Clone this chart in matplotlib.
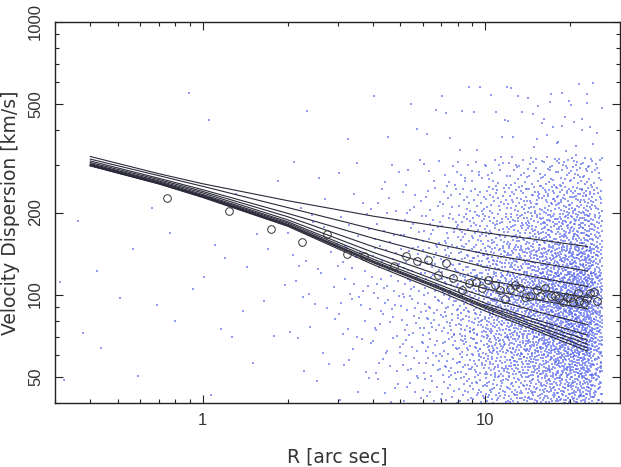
import numpy as np
import matplotlib
matplotlib.use("Agg")
import matplotlib.pyplot as plt
from matplotlib.ticker import FixedLocator, NullFormatter, FixedFormatter

plt.rcParams['font.family'] = ['Liberation Sans', 'DejaVu Sans']

# observed dispersion profile (circles)
obs_r = [0.75, 1.24, 1.75, 2.24, 2.75, 3.23, 3.73, 4.76, 5.25, 5.75, 6.25, 6.78,
         7.26, 7.72, 8.25, 8.74, 9.28, 9.72, 10.27, 10.79, 11.32, 11.74, 12.27,
         12.70, 13.23, 13.86, 14.44, 15.25, 15.67, 16.32, 17.10, 17.71, 18.20,
         18.86, 19.49, 19.91, 20.46, 21.25, 21.42, 22.31, 22.94, 23.44, 24.21, 24.89]
obs_sig = [226, 202, 174, 156, 167, 141, 139, 127, 138, 133, 134, 118,
           131, 115, 104, 110, 111, 106, 113, 108, 104, 96, 105,
           108, 106, 98, 99, 104, 99, 106, 99, 99, 97,
           94, 98, 97, 94, 101, 95, 93, 97, 101, 102, 94.5]

# model curves, sampled at these radii
model_r = [0.4, 0.7, 1, 2, 4, 7, 10, 15, 23]
model_1 = [321, 277.5, 255, 221, 194, 177.5, 168.5, 159.5, 150]
model_2 = [314, 273, 249.5, 208.5, 174, 152, 141, 131.5, 122]
model_3 = [309, 267, 242.5, 198.5, 161, 138, 126, 116, 107]
model_4 = [305, 264, 239, 193, 150, 125, 113, 105, 97.5]
model_5 = [302, 261, 236, 188, 143, 117, 105, 96, 88.6]
model_6 = [300, 259, 233, 185, 138, 111, 98, 87, 77.6]
model_7 = [299, 257, 231, 183, 135, 108, 93, 81, 71]
model_8 = [298, 256, 230, 181, 133, 106, 91, 79, 68]
model_9 = [297.5, 255.5, 229, 180, 132, 105, 90, 77, 65.8]
model_10 = [297, 255, 228, 179, 131, 104, 89, 75.5, 63.7]
model_11 = [296.5, 254.5, 227, 178, 129, 102, 87, 74, 62]
models = [model_1, model_2, model_3, model_4, model_5, model_6,
          model_7, model_8, model_9, model_10, model_11]

# particle cloud: counts read per (R bin, sigma bin)
cloud_r_edges = [0.3, 1, 2, 3, 4, 5, 6, 7, 8, 9, 10, 12, 14, 16, 18, 20, 22, 24, 26]
cloud_s_edges = [40, 50, 60, 70, 85, 100, 120, 150, 200, 250, 320, 600]
cloud_counts = [
    [1, 1, 1, 2, 2, 2, 2, 2, 1, 1, 1],
    [1, 1, 1, 2, 2, 2, 3, 2, 1, 1, 1],
    [1, 2, 2, 3, 3, 4, 5, 5, 2, 2, 1],
    [3, 3, 3, 5, 5, 6, 7, 6, 3, 2, 1],
    [5, 5, 5, 7, 7, 8, 9, 8, 4, 3, 2],
    [6, 7, 6, 9, 8, 10, 11, 10, 5, 3, 2],
    [8, 9, 8, 11, 10, 12, 13, 12, 6, 4, 2],
    [10, 11, 10, 14, 13, 14, 15, 15, 7, 5, 3],
    [13, 14, 13, 18, 16, 18, 18, 18, 9, 6, 3],
    [15, 16, 15, 20, 18, 20, 20, 19, 10, 6, 3],
    [36, 38, 38, 50, 44, 46, 44, 40, 22, 14, 5],
    [38, 40, 40, 54, 47, 50, 48, 44, 24, 15, 5],
    [40, 42, 42, 56, 49, 52, 50, 45, 25, 15, 6],
    [42, 44, 44, 58, 51, 54, 52, 47, 26, 16, 6],
    [42, 44, 44, 58, 51, 54, 52, 47, 26, 16, 6],
    [42, 44, 44, 58, 51, 54, 52, 47, 26, 16, 6],
    [40, 42, 42, 55, 48, 51, 49, 44, 24, 15, 5],
    [24, 26, 26, 34, 30, 32, 30, 27, 14, 9, 3],
]


def halton(i, base):
    f, r = 1.0, 0.0
    while i > 0:
        f /= base
        r += f * (i % base)
        i //= base
    return r


# spread each cell's count inside the cell (log space, Halton 2/3)
px, py = [], []
k = 7
for i, row in enumerate(cloud_counts):
    lr0, lr1 = np.log10(cloud_r_edges[i]), np.log10(cloud_r_edges[i + 1])
    for j, n in enumerate(row):
        ls0, ls1 = np.log10(cloud_s_edges[j]), np.log10(cloud_s_edges[j + 1])
        for m in range(n):
            k += 1
            u = halton(k, 2)
            v = halton(k, 3)
            px.append(10 ** (lr0 + u * (lr1 - lr0)))
            py.append(10 ** (ls0 + v * (ls1 - ls0)))

fig = plt.figure(figsize=(6.21, 4.67), dpi=100)
ax = fig.add_axes([55 / 621, 64 / 467, 565 / 621, 381 / 467])

ax.scatter(px, py, s=0.8, marker='s', linewidths=0, color='#5868ee', alpha=0.65, zorder=1)

for sig in models:
    ax.plot(model_r, sig, color='#2a2a3a', lw=0.8, zorder=2)

ax.plot(obs_r, obs_sig, 'o', mfc='none', mec='#333333', mew=0.7, ms=5.5, zorder=3)

ax.set_xscale('log')
ax.set_yscale('log')
ax.set_xlim(0.3, 30)
ax.set_ylim(40, 1000)

ax.xaxis.set_major_locator(FixedLocator([1, 10]))
ax.xaxis.set_major_formatter(FixedFormatter(['1', '10']))
ax.xaxis.set_minor_locator(FixedLocator([0.3, 0.4, 0.5, 0.6, 0.7, 0.8, 0.9,
                                         2, 3, 4, 5, 6, 7, 8, 9, 20, 30]))
ax.xaxis.set_minor_formatter(NullFormatter())
ax.yaxis.set_major_locator(FixedLocator([50, 100, 200, 500, 1000]))
ax.yaxis.set_major_formatter(FixedFormatter(['50', '100', '200', '500', '1000']))
ax.yaxis.set_minor_locator(FixedLocator([40, 60, 70, 80, 90, 300, 400, 600, 700, 800, 900]))
ax.yaxis.set_minor_formatter(NullFormatter())

ax.tick_params(which='both', direction='in', top=True, right=True, colors='#222222',
               labelcolor='#333333', labelsize=12)
ax.tick_params(which='major', length=6, width=0.8)
ax.tick_params(which='minor', length=3, width=0.8)
ax.tick_params(axis='x', pad=7)
ax.tick_params(axis='y', pad=8.5)
for lab in ax.get_yticklabels():
    lab.set_rotation(90)
    lab.set_va('center')

for sp in ax.spines.values():
    sp.set_linewidth(1.0)
    sp.set_color('#222222')

ax.set_xlabel('R [arc sec]', fontsize=13.5, color='#333333', family='DejaVu Sans')
ax.xaxis.set_label_coords(0.5, -0.118)
ax.xaxis.label.set_va('top')
ax.set_ylabel('Velocity Dispersion [km/s]', fontsize=13.5, color='#333333', family='DejaVu Sans')
ax.yaxis.set_label_coords(-0.062, 0.5)

fig.savefig('out.png', dpi=100)
